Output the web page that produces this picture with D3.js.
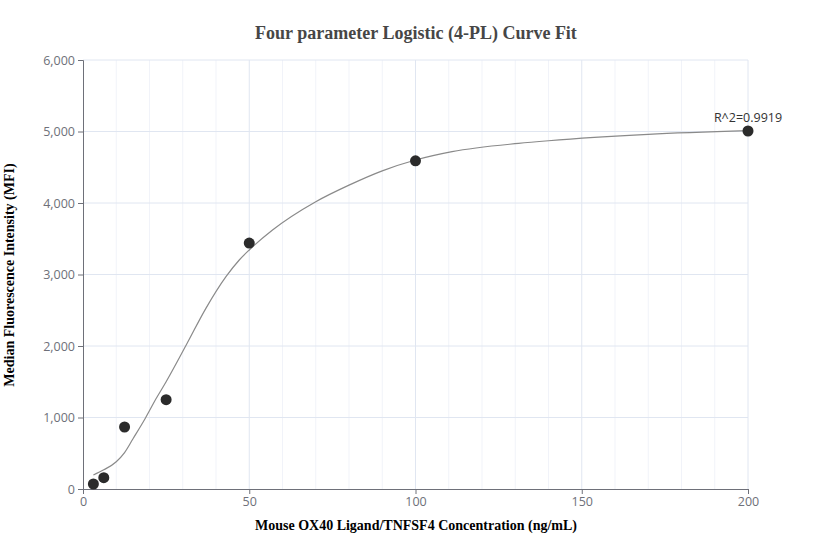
<!DOCTYPE html>
<html>
<head>
<meta charset="utf-8">
<script src="https://cdn.jsdelivr.net/npm/d3@7"></script>
<style>
  body { margin: 0; background: #fff; }
  svg { display: block; }
</style>
</head>
<body>
<script>
// measured standards
var concs = [3.125, 6.25, 12.5, 25, 50, 100, 200];
var mfi = [70, 158, 867, 1249, 3440, 4590, 5007];

// fitted curve
var fitX = [3.125, 6.25, 10, 12.5, 15, 18.75, 22, 25, 31, 37, 43, 47, 50, 57, 70, 80, 90, 100, 111, 131, 140, 170, 200];
var fitY = [196, 268, 382, 510, 700, 990, 1265, 1500, 2010, 2530, 2970, 3203, 3343, 3622, 4018, 4250, 4450, 4601, 4718, 4834, 4871, 4960, 5011];

var xTicks = [0, 50, 100, 150, 200];
var yTicks = [0, 1000, 2000, 3000, 4000, 5000, 6000];
var rSquared = "R^2=0.9919";

var width = 832, height = 560;
var plotL = 83, plotR = 748, plotT = 60, plotB = 489;

var svg = d3.select("body").append("svg")
    .attr("width", width)
    .attr("height", height);

var x = d3.scaleLinear().domain([0, 200]).range([plotL, plotR]);
var y = d3.scaleLinear().domain([0, 6000]).range([plotB, plotT]);

// minor vertical grid every 10
var minor = d3.range(10, 200, 10).filter(function (d) { return d % 50 != 0; });
svg.append("g").selectAll("line")
    .data(minor)
    .enter().append("line")
    .attr("x1", function (d) { return x(d); })
    .attr("x2", function (d) { return x(d); })
    .attr("y1", plotT).attr("y2", plotB)
    .attr("stroke", "#f1f3f9");

svg.append("g").selectAll("line")
    .data(xTicks.slice(1))
    .enter().append("line")
    .attr("x1", function (d) { return x(d); })
    .attr("x2", function (d) { return x(d); })
    .attr("y1", plotT).attr("y2", plotB)
    .attr("stroke", "#e0e6f1");

svg.append("g").selectAll("line")
    .data(yTicks.slice(1))
    .enter().append("line")
    .attr("x1", plotL).attr("x2", plotR)
    .attr("y1", function (d) { return y(d); })
    .attr("y2", function (d) { return y(d); })
    .attr("stroke", "#e0e6f1");

// axes
var fmt = d3.format(",");
var yAxis = svg.append("g")
    .attr("transform", "translate(" + plotL + ",0)")
    .call(d3.axisLeft(y).tickValues(yTicks).tickFormat(fmt).tickSize(5).tickPadding(3));
var xAxis = svg.append("g")
    .attr("transform", "translate(0," + plotB + ")")
    .call(d3.axisBottom(x).tickValues(xTicks).tickSize(5).tickPadding(3));

[xAxis, yAxis].forEach(function (a) {
    a.select(".domain").attr("stroke", "#6e7079");
    a.selectAll(".tick line").attr("stroke", "#6e7079");
    a.selectAll("text")
        .attr("fill", "#6e7079")
        .style("font-family", "'Open Sans', sans-serif")
        .style("font-size", "12.5px");
});

// curve
var line = d3.line()
    .x(function (d) { return x(d[0]); })
    .y(function (d) { return y(d[1]); })
    .curve(d3.curveMonotoneX);

svg.append("path")
    .datum(d3.zip(fitX, fitY))
    .attr("d", line)
    .attr("fill", "none")
    .attr("stroke", "#8a8a8a")
    .attr("stroke-width", 1.2);

// points
svg.append("g").selectAll("circle")
    .data(d3.zip(concs, mfi))
    .enter().append("circle")
    .attr("cx", function (d) { return x(d[0]); })
    .attr("cy", function (d) { return y(d[1]); })
    .attr("r", 5.5)
    .attr("fill", "#2b2b2b");

svg.append("text")
    .attr("x", x(200))
    .attr("y", y(mfi[mfi.length - 1]) - 9)
    .attr("text-anchor", "middle")
    .attr("fill", "#333")
    .style("font-family", "'Open Sans', sans-serif")
    .style("font-size", "12.5px")
    .text(rSquared);

// titles
svg.append("text")
    .attr("x", 416).attr("y", 39)
    .attr("text-anchor", "middle")
    .attr("fill", "#464646")
    .style("font-family", "'Liberation Serif', serif")
    .style("font-weight", "bold")
    .style("font-size", "18px")
    .text("Four parameter Logistic (4-PL) Curve Fit");

svg.append("text")
    .attr("x", 416).attr("y", 530)
    .attr("text-anchor", "middle")
    .attr("fill", "#000")
    .style("font-family", "'Liberation Serif', serif")
    .style("font-weight", "bold")
    .style("font-size", "14px")
    .text("Mouse OX40 Ligand/TNFSF4 Concentration (ng/mL)");

svg.append("text")
    .attr("transform", "translate(14,275) rotate(-90)")
    .attr("text-anchor", "middle")
    .attr("fill", "#000")
    .style("font-family", "'Liberation Serif', serif")
    .style("font-weight", "bold")
    .style("font-size", "14px")
    .text("Median Fluorescence Intensity (MFI)");
</script>
</body>
</html>
